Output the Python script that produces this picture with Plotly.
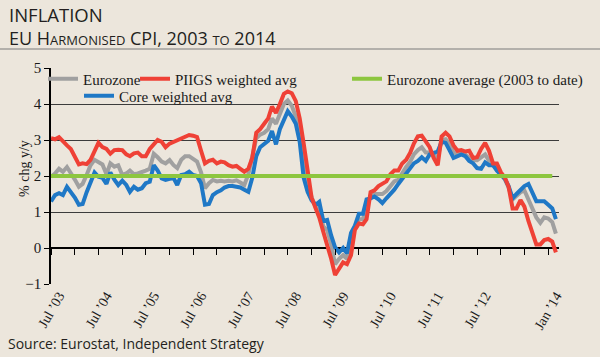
import pandas as pd
import plotly.graph_objects as go

# Monthly data, Jul 2003 .. Mar 2014 (% chg y/y)
dates = pd.date_range("2003-07-01", periods=129, freq="MS")

eurozone = [
    1.98, 2.07, 2.20, 2.12, 2.25, 2.05, 1.90, 1.70, 1.78, 2.03, 2.30, 2.45,
    2.40, 2.32, 2.05, 2.35, 2.26, 2.30, 2.03, 2.07, 2.15, 2.05, 2.07, 2.10,
    2.15, 2.20, 2.62, 2.52, 2.40, 2.35, 2.44, 2.30, 2.22, 2.45, 2.55, 2.55,
    2.48, 2.40, 2.10, 1.66, 1.80, 1.89, 1.85, 1.87, 1.85, 1.87, 1.85, 1.88,
    1.82, 1.75, 2.05, 2.55, 3.05, 3.15, 3.20, 3.30, 3.60, 3.45, 3.75, 4.00,
    4.10, 3.95, 3.65, 3.25, 2.40, 1.80, 1.40, 1.15, 1.10, 0.60, 0.50, 0.10,
    -0.45, -0.30, -0.20, -0.30, 0.20, 0.55, 0.80, 0.80, 1.15, 1.45, 1.50, 1.50,
    1.50, 1.58, 1.72, 1.85, 1.90, 2.10, 2.25, 2.40, 2.60, 2.72, 2.80, 2.65,
    2.65, 2.60, 2.50, 3.00, 3.02, 2.90, 2.65, 2.62, 2.65, 2.60, 2.50, 2.44,
    2.44, 2.52, 2.60, 2.42, 2.30, 2.20, 2.05, 1.90, 1.68, 1.35, 1.45, 1.55,
    1.60, 1.35, 1.10, 0.85, 0.70, 0.85, 0.82, 0.72, 0.40,
]

piigs = [
    3.05, 3.02, 3.08, 2.95, 2.85, 2.75, 2.55, 2.32, 2.35, 2.33, 2.45, 2.70,
    2.92, 2.80, 2.75, 2.62, 2.72, 2.73, 2.72, 2.60, 2.55, 2.63, 2.65, 2.55,
    2.55, 2.75, 2.88, 3.00, 2.95, 2.80, 2.90, 2.95, 3.00, 3.05, 3.10, 3.14,
    3.12, 3.08, 2.70, 2.35, 2.42, 2.45, 2.35, 2.40, 2.38, 2.30, 2.26, 2.28,
    2.20, 2.12, 2.20, 2.50, 3.20, 3.30, 3.45, 3.60, 3.93, 3.75, 4.00, 4.28,
    4.35, 4.30, 4.08, 3.60, 2.90, 2.10, 1.40, 1.10, 0.85, 0.45, 0.10, -0.30,
    -0.75, -0.55, -0.40, -0.45, -0.20, 0.50, 0.68, 0.66, 0.80, 1.55, 1.60, 1.72,
    1.80, 1.85, 2.05, 2.15, 2.15, 2.35, 2.45, 2.65, 2.90, 3.10, 3.12, 2.95,
    2.80, 2.50, 2.30, 3.10, 3.20, 3.10, 2.85, 2.70, 2.72, 2.68, 2.70, 2.50,
    2.52, 2.75, 2.92, 2.70, 2.35, 2.35, 2.10, 1.95, 1.70, 1.10, 1.10, 1.33,
    1.15, 0.75, 0.45, 0.10, 0.10, 0.22, 0.25, 0.18, -0.12,
]

core = [
    1.29, 1.47, 1.52, 1.47, 1.70, 1.56, 1.40, 1.20, 1.22, 1.55, 1.85, 2.10,
    1.98, 1.95, 1.78, 2.10, 1.90, 1.75, 1.87, 1.75, 1.56, 1.70, 1.62, 1.66,
    1.80, 1.84, 2.30, 2.15, 1.93, 1.89, 1.92, 1.94, 1.75, 2.03, 2.05, 2.12,
    2.03, 2.00, 1.80, 1.20, 1.22, 1.47, 1.55, 1.60, 1.68, 1.72, 1.72, 1.70,
    1.68, 1.62, 1.56, 1.95, 2.55, 2.80, 2.88, 2.98, 3.25, 2.88, 3.30, 3.58,
    3.80, 3.65, 3.45, 2.95, 1.95, 1.56, 1.32, 1.20, 1.28, 0.75, 0.78, 0.35,
    0.02, -0.12, 0.00, -0.15, 0.42, 0.62, 0.95, 0.95, 1.35, 1.38, 1.43, 1.35,
    1.25, 1.38, 1.50, 1.62, 1.78, 1.92, 2.08, 2.25, 2.35, 2.42, 2.52, 2.42,
    2.60, 2.64, 2.68, 2.95, 2.92, 2.72, 2.50, 2.55, 2.60, 2.55, 2.42, 2.35,
    2.22, 2.20, 2.38, 2.30, 2.30, 2.15, 2.05, 1.92, 1.72, 1.38, 1.50, 1.60,
    1.72, 1.78, 1.50, 1.30, 1.30, 1.30, 1.20, 1.10, 0.80,
]

eurozone_avg = [2.0] * 128

tick_dates = ["2003-07-01", "2004-07-01", "2005-07-01", "2006-07-01", "2007-07-01",
              "2008-07-01", "2009-07-01", "2010-07-01", "2011-07-01", "2012-07-01",
              "2014-01-01"]
tick_text = ["Jul ’03", "Jul ’04", "Jul ’05", "Jul ’06", "Jul ’07", "Jul ’08",
             "Jul ’09", "Jul ’10", "Jul ’11", "Jul ’12", "Jan ’14"]

BG = "#ECE6DC"
GRAY = "#A0A0A0"
RED = "#EF4136"
BLUE = "#1F78C6"
GREEN = "#8DC63F"
SERIF = "Liberation Serif"
SANS = "Open Sans"

fig = go.Figure()
fig.add_trace(go.Scatter(x=dates, y=eurozone, mode="lines", name="Eurozone",
                         line=dict(color=GRAY, width=4), legend="legend"))
fig.add_trace(go.Scatter(x=dates, y=core, mode="lines", name="Core weighted avg",
                         line=dict(color=BLUE, width=4), legend="legend3"))
fig.add_trace(go.Scatter(x=dates, y=piigs, mode="lines", name="PIIGS weighted avg",
                         line=dict(color=RED, width=4), legend="legend4"))
fig.add_trace(go.Scatter(x=dates[:len(eurozone_avg)], y=eurozone_avg, mode="lines",
                         name="Eurozone average (2003 to date)",
                         line=dict(color=GREEN, width=4), legend="legend2"))
# helper trace for the tick-mark axis along y = 0
fig.add_trace(go.Scatter(x=[dates[0]], y=[None], xaxis="x2", showlegend=False,
                         hoverinfo="skip"))

W, H = 600, 357
L, R, T, B = 51, 41, 68, 73
pw, ph = W - L - R, H - T - B

def px(x):
    return (x - L) / pw

def py(y):
    return (H - B - y) / ph

def leg(xtext, ycenter):
    # text of a legend entry starts ~41 px right of the legend's x
    return dict(orientation="h", bgcolor="rgba(0,0,0,0)", borderwidth=0,
                font=dict(family=SERIF, size=15, color="#1a1a1a"),
                xanchor="left", yanchor="middle", x=px(xtext - 41), y=py(ycenter))

fig.update_layout(
    width=W, height=H,
    margin=dict(l=L, r=R, t=T, b=B),
    paper_bgcolor=BG, plot_bgcolor=BG,
    showlegend=True,
    legend=leg(84, 79),
    legend4=leg(176, 79),
    legend2=leg(388, 79),
    legend3=leg(120, 96),
    xaxis=dict(range=["2003-07-01", "2014-03-25"], showgrid=False, zeroline=False,
               tickvals=tick_dates, ticktext=tick_text, tickangle=-60,
               ticklabelshift=8,
               ticks="", showline=False, automargin=False,
               tickfont=dict(family=SERIF, size=14, color="#1a1a1a")),
    xaxis2=dict(overlaying="x", matches="x", anchor="free", position=1 / 6,
                showgrid=False, zeroline=False, showticklabels=False,
                ticks="outside", ticklen=6, tickwidth=1.3, tickcolor="#000",
                tick0="2003-07-01", dtick="M6", showline=False),
    yaxis=dict(range=[-1, 5], dtick=1, showgrid=True, gridcolor="#3c3c3c",
               gridwidth=1, zeroline=True, zerolinecolor="#000", zerolinewidth=1.5,
               showline=True, linecolor="#000", linewidth=1.5, automargin=False,
               ticks="outside", ticklen=5, tickcolor="#000",
               tickfont=dict(family=SERIF, size=15, color="#1a1a1a")),
    annotations=[
        dict(text="INFLATION", xref="paper", yref="paper", x=px(7), y=py(15),
             xanchor="left", yanchor="middle", showarrow=False,
             font=dict(family=SANS, size=18.5, color="#231F20")),
        dict(text="EU H<span style='font-size:13px'>ARMONISED</span> CPI, 2003 "
                  "<span style='font-size:13px'>TO</span> 2014",
             xref="paper", yref="paper", x=px(7), y=py(38),
             xanchor="left", yanchor="middle", showarrow=False,
             font=dict(family=SANS, size=18, color="#231F20")),
        dict(text="Source: Eurostat, Independent Strategy", xref="paper",
             yref="paper", x=px(6), y=py(343), xanchor="left", yanchor="middle",
             showarrow=False, font=dict(family=SANS, size=14, color="#231F20")),
        dict(text="% chg y/y", xref="paper", yref="paper", x=px(24), y=py(169),
             xanchor="center", yanchor="middle", textangle=-90, showarrow=False,
             font=dict(family=SERIF, size=14, color="#1a1a1a")),
    ],
    shapes=[
        dict(type="line", xref="paper", yref="paper", x0=px(0), x1=px(600),
             y0=py(49), y1=py(49), line=dict(color="#7a7a7a", width=1)),
    ],
)

fig.write_html("out.html", config={"displayModeBar": False},
               post_script="document.body.style.margin='0';"
                           "document.body.style.overflow='hidden';")
